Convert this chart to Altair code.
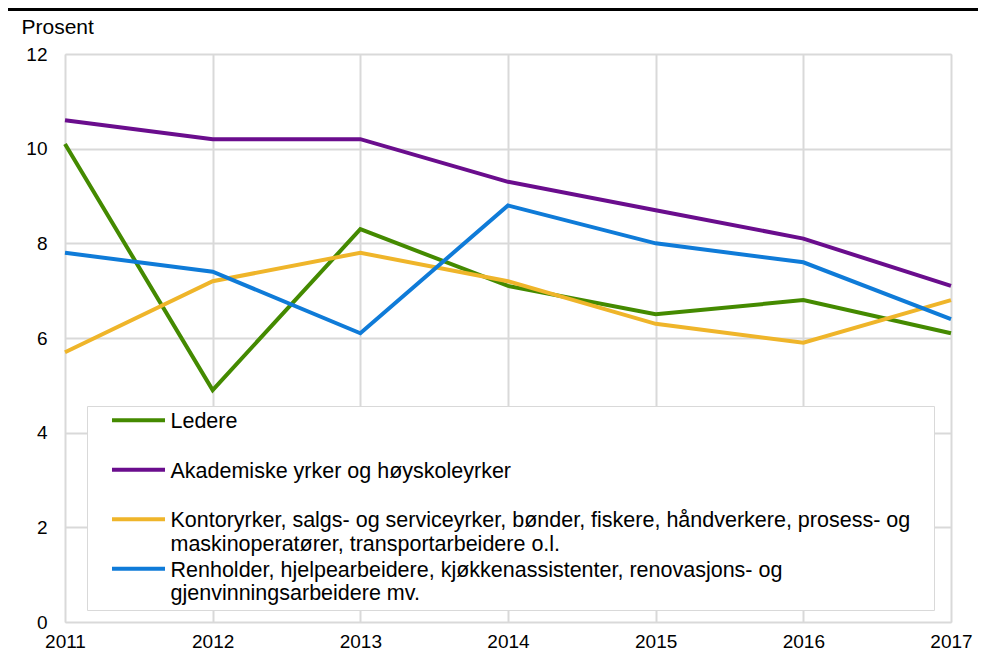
import json
import altair as alt
import pandas as pd

# ---- data ----
years = [2011, 2012, 2013, 2014, 2015, 2016, 2017]
series_names = [
    "Ledere",
    "Akademiske yrker og høyskoleyrker",
    "Kontoryrker, salgs- og serviceyrker, bønder, fiskere, håndverkere, prosess- og maskinoperatører, transportarbeidere o.l.",
    "Renholder, hjelpearbeidere, kjøkkenassistenter, renovasjons- og gjenvinningsarbeidere mv.",
]
ledere = [10.1, 4.9, 8.3, 7.1, 6.5, 6.8, 6.1]
akademiske = [10.6, 10.2, 10.2, 9.3, 8.7, 8.1, 7.1]
kontoryrker = [5.7, 7.2, 7.8, 7.2, 6.3, 5.9, 6.8]
renholder = [7.8, 7.4, 6.1, 8.8, 8.0, 7.6, 6.4]
y_ticks = [0, 2, 4, 6, 8, 10, 12]
colors = ["#448a00", "#6a0d8d", "#efb52a", "#0f7bd8"]

# legend label lines (wrapped as in the reference)
PAD = "\u00a0" * 3 + "\u200b"
legend_lines = [
    ["Ledere"],
    ["Akademiske yrker og høyskoleyrker"],
    ["Kontoryrker, salgs- og serviceyrker, bønder, fiskere, håndverkere, prosess- og" + PAD,
     "maskinoperatører, transportarbeidere o.l."],
    ["Renholder, hjelpearbeidere, kjøkkenassistenter, renovasjons- og",
     "gjenvinningsarbeidere mv."],
]

rows = []
for name, vals in zip(series_names, [ledere, akademiske, kontoryrker, renholder]):
    for yr, v in zip(years, vals):
        rows.append({"år": yr, "verdi": v, "gruppe": name})
df = pd.DataFrame(rows)

label_expr = "".join(
    f"datum.label === {json.dumps(n)} ? {json.dumps(l)} : "
    for n, l in zip(series_names, legend_lines)
) + "datum.label"

FONT = "Liberation Sans"
GRID = "#d9d9d9"

lines = alt.Chart(df).mark_line(strokeWidth=4).encode(
    x=alt.X(
        "år:Q",
        scale=alt.Scale(domain=[years[0], years[-1]], nice=False, zero=False),
        axis=alt.Axis(
            values=years, format="d", title=None, grid=True, gridColor=GRID, gridWidth=2,
            domain=False, ticks=False, tickSize=0, labelFont=FONT, labelFontSize=19,
            labelColor="black", labelPadding=10, labelFlush=False,
        ),
    ),
    y=alt.Y(
        "verdi:Q",
        scale=alt.Scale(domain=[0, 12], nice=False),
        axis=alt.Axis(
            values=y_ticks, title="Prosent", titleAngle=0, titleAlign="left",
            titleBaseline="alphabetic", titleX=-44, titleY=-21, titleFont=FONT,
            titleFontSize=21, titleFontWeight="normal", titleColor="black",
            grid=True, gridColor=GRID, gridWidth=2, domain=False, ticks=False, tickSize=0,
            labelFont=FONT, labelFontSize=19, labelColor="black", labelPadding=18,
        ),
    ),
    color=alt.Color(
        "gruppe:N",
        scale=alt.Scale(domain=series_names, range=colors),
        legend=alt.Legend(
            orient="none", legendX=22, legendY=352, direction="vertical", title=None,
            fillColor="white", strokeColor=GRID, padding=5,
            symbolType="M-1.767,-0.513L1.767,-0.513", symbolSize=900, symbolStrokeWidth=4,
            symbolOffset=29.5, labelOffset=15, labelFont=FONT, labelFontSize=21.5,
            labelColor="black", labelBaseline="alphabetic", labelLimit=1200,
            rowPadding=4.5, gridAlign="all", labelExpr=label_expr,
        ),
    ),
)

top_rule = alt.Chart(alt.Data(values=[{"k": 1}])).mark_rule(color="black", strokeWidth=3).encode(
    x=alt.value(-57), x2=alt.value(913), y=alt.value(-44.5)
)

chart = alt.layer(lines, top_rule).properties(
    width=886,
    height=568,
    padding={"left": 57, "top": 46, "right": 27, "bottom": 30},
    autosize=alt.AutoSizeParams(type="none"),
).configure_view(stroke="transparent").configure_legend(strokeWidth=2).configure(font=FONT)

chart.save("out.html", embed_options={"renderer": "svg", "actions": False})
